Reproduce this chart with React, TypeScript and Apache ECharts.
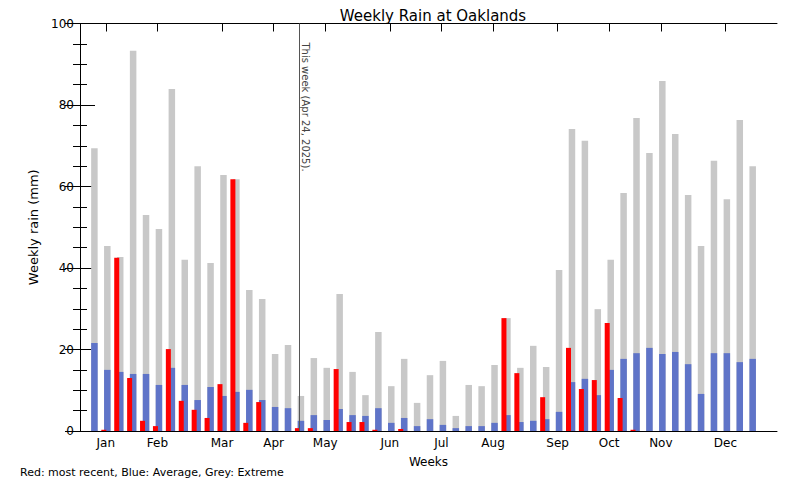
import React, { useEffect, useRef } from 'react';
import * as echarts from 'echarts';

// Week numbers (x categories)
const weeks = [
  1, 2, 3, 4, 5, 6, 7, 8, 9, 10, 11, 12, 13, 14, 15, 16, 17, 18, 19, 20, 21, 22, 23, 24, 25, 26,
  27, 28, 29, 30, 31, 32, 33, 34, 35, 36, 37, 38, 39, 40, 41, 42, 43, 44, 45, 46, 47, 48, 49, 50, 51, 52,
];

// Grey: extreme weekly rain (mm)
const extremeRain = [
  69.4, 45.4, 42.7, 93.3, 53.0, 49.6, 83.9, 42.0, 65.0, 41.2, 62.8, 61.8, 34.6, 32.4, 18.9, 21.1, 8.6,
  17.9, 15.5, 33.6, 14.5, 8.8, 24.3, 11.0, 17.7, 6.9, 13.7, 17.2, 3.7, 11.3, 11.0, 16.2, 27.7, 15.5,
  20.9, 15.7, 39.5, 74.1, 71.2, 29.9, 42.0, 58.4, 76.8, 68.2, 85.9, 72.9, 57.9, 45.4, 66.3, 56.9, 76.3, 65.0,
];

// Blue: average weekly rain (mm)
const averageRain = [
  21.6, 15.0, 14.5, 14.0, 14.0, 11.3, 15.5, 11.3, 7.6, 10.8, 8.6, 9.6, 10.1, 7.6, 5.9, 5.6, 2.5,
  3.9, 2.7, 5.4, 3.9, 3.7, 5.6, 2.0, 3.2, 1.2, 2.9, 1.5, 0.7, 1.2, 1.2, 2.0, 3.9, 2.2,
  2.5, 2.9, 4.7, 12.0, 12.8, 8.8, 15.0, 17.7, 19.1, 20.4, 18.9, 19.4, 16.4, 9.1, 19.1, 19.1, 16.9, 17.7,
];

// Red: most recent weekly rain (mm)
const recentRain = [
  0, 0.3, 42.5, 13.0, 2.5, 1.2, 20.1, 7.4, 5.2, 3.2, 11.5, 61.8, 2.0, 7.1, 0, 0, 0.7,
  0.7, 0, 15.2, 2.2, 2.2, 0.3, 0, 0.5, 0, 0, 0, 0, 0, 0, 0, 27.7, 14.2,
  0, 8.3, 0, 20.4, 10.3, 12.5, 26.5, 8.1, 0.3, 0, 0, 0, 0, 0, 0, 0, 0, 0,
];

// Month tick positions (week numbers) and labels
const monthTickWeeks = [2, 6, 11, 15, 19, 24, 28, 32, 37, 41, 45, 50];
const monthLabels = ['Jan', 'Feb', 'Mar', 'Apr', 'May', 'Jun', 'Jul', 'Aug', 'Sep', 'Oct', 'Nov', 'Dec'];

const yTicks = { min: 0, max: 100, interval: 20 };
const thisWeek = 17;
const thisWeekLabel = 'This week (Apr 24, 2025).';

const FONT = 'DejaVu Sans';

export default function App() {
  const ref = useRef<HTMLDivElement>(null);

  useEffect(() => {
    if (!ref.current) return;
    const chart = echarts.init(ref.current, null, { renderer: 'svg' });

    const X_MIN = 0;
    const X_MAX = 54;
    const redShift = 0.155; // red bars drawn slightly left of week tick
    const greyShift = 0.116; // grey/blue bars drawn slightly right

    const tickAxisCommon = {
      type: 'value',
      min: X_MIN,
      max: X_MAX,
      axisLine: { show: true, onZero: false, lineStyle: { color: '#000', width: 1 } },
      axisTick: {
        show: true,
        inside: true,
        length: 8,
        customValues: monthTickWeeks,
        lineStyle: { color: '#000', width: 1 },
      },
      splitLine: { show: false },
    };

    const yCommon = {
      type: 'value',
      min: yTicks.min,
      max: yTicks.max,
      interval: yTicks.interval,
      axisLine: { show: true, lineStyle: { color: '#000', width: 1 } },
      axisTick: { show: true, inside: true, length: 15, lineStyle: { color: '#000', width: 1 } },
      minorTick: { show: true, splitNumber: 4, length: 7, lineStyle: { color: '#000', width: 1 } },
      splitLine: { show: false },
      minorSplitLine: { show: false },
    };

    const option: any = {
      animation: false,
      backgroundColor: '#ffffff',
      textStyle: { fontFamily: FONT },
      title: [
        {
          text: 'Weekly Rain at Oaklands',
          left: 428,
          top: 3,
          textAlign: 'center',
          textStyle: { fontSize: 15, fontWeight: 'normal', color: '#000', fontFamily: FONT },
        },
        {
          text: 'Red: most recent, Blue: Average, Grey: Extreme',
          left: 15,
          top: 462,
          textStyle: { fontSize: 11, fontWeight: 'normal', color: '#000', fontFamily: FONT },
        },
      ],
      grid: { left: 80, right: 23, top: 23.5, bottom: 49, containLabel: false },
      xAxis: [
        {
          ...tickAxisCommon,
          position: 'bottom',
          axisLabel: {
            show: true,
            customValues: monthTickWeeks,
            formatter: (v: number) => {
              const idx = monthTickWeeks.indexOf(Math.round(v));
              return idx >= 0 ? monthLabels[idx] : '';
            },
            color: '#000',
            fontSize: 12,
            margin: 6,
            fontFamily: FONT,
          },
          name: 'Weeks',
          nameLocation: 'middle',
          nameGap: 25,
          nameTextStyle: { color: '#000', fontSize: 12, fontFamily: FONT, verticalAlign: 'top' },
        },
        {
          ...tickAxisCommon,
          position: 'top',
          axisLabel: { show: false },
        },
        { type: 'value', min: X_MIN + redShift, max: X_MAX + redShift, show: false },
        { type: 'value', min: X_MIN - greyShift, max: X_MAX - greyShift, show: false },
      ],
      yAxis: [
        {
          ...yCommon,
          position: 'left',
          axisLabel: { show: true, color: '#000', fontSize: 12, margin: 6, fontFamily: FONT },
          name: 'Weekly rain (mm)',
          nameLocation: 'middle',
          nameGap: 35,
          nameTextStyle: { color: '#000', fontSize: 13, fontFamily: FONT },
        },
        {
          ...yCommon,
          position: 'right',
          axisLabel: { show: false },
        },
      ],
      series: [
        {
          type: 'bar',
          name: 'Extreme',
          xAxisIndex: 3,
          yAxisIndex: 0,
          data: weeks.map((w, i) => [w, extremeRain[i]]),
          barWidth: 6.5,
          barGap: '-100%',
          itemStyle: { color: '#c8c8c8' },
          z: 1,
        },
        {
          type: 'bar',
          name: 'Average',
          xAxisIndex: 3,
          yAxisIndex: 0,
          data: weeks.map((w, i) => [w, averageRain[i]]),
          barWidth: 6.5,
          barGap: '-100%',
          itemStyle: { color: '#5f74c8' },
          z: 2,
        },
        {
          type: 'bar',
          name: 'Most recent',
          xAxisIndex: 2,
          yAxisIndex: 0,
          data: weeks.map((w, i) => [w, recentRain[i]]),
          barWidth: 5,
          itemStyle: { color: '#ff0000' },
          z: 3,
        },
      ],
    };

    chart.setOption(option);

    const lx = chart.convertToPixel({ xAxisIndex: 0 }, thisWeek) as number;
    const y0 = chart.convertToPixel({ yAxisIndex: 0 }, yTicks.min) as number;
    const y1 = chart.convertToPixel({ yAxisIndex: 0 }, yTicks.max) as number;
    const px = Math.round(lx) + 0.5;

    chart.setOption({
      graphic: [
        {
          type: 'line',
          shape: { x1: px, y1: y1, x2: px, y2: y0 },
          style: { stroke: '#555', lineWidth: 1 },
          z: 10,
        },
        {
          type: 'text',
          x: px + 1,
          y: y1 + 19,
          rotation: -Math.PI / 2,
          style: {
            text: thisWeekLabel,
            fill: '#444',
            fontSize: 10,
            fontFamily: FONT,
            align: 'left',
            verticalAlign: 'bottom',
          },
          z: 10,
        },
      ],
    });

    return () => {
      chart.dispose();
    };
  }, []);

  return (
    <div
      ref={ref}
      style={{ position: 'fixed', left: 0, top: 0, width: 800, height: 480, background: '#fff' }}
    />
  );
}
